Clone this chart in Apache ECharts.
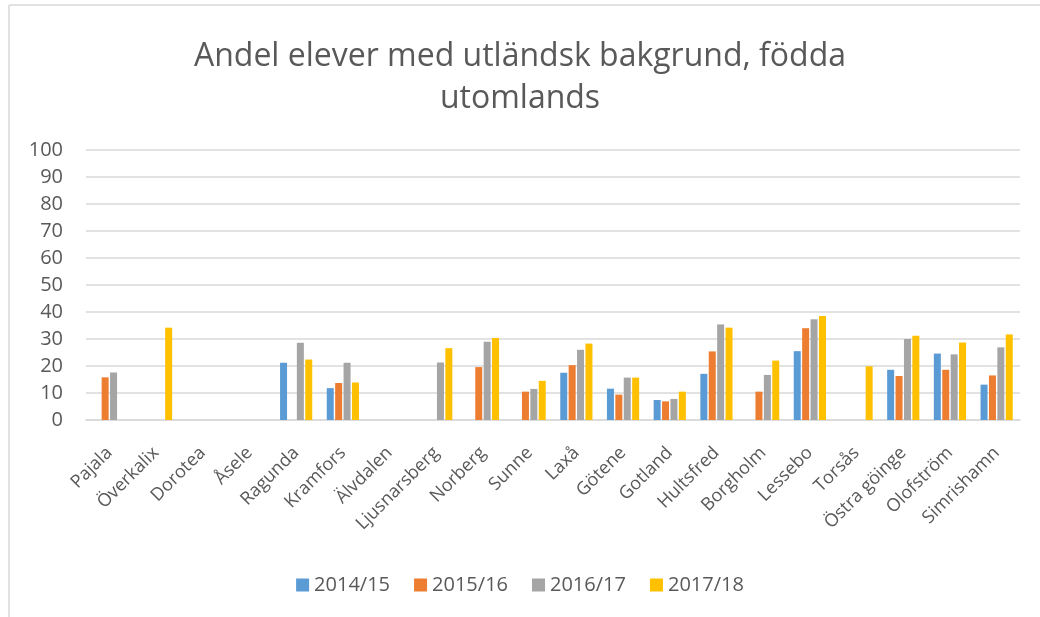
<!DOCTYPE html>
<html>
<head>
<meta charset="utf-8">
<script src="https://cdn.jsdelivr.net/npm/echarts@6/dist/echarts.min.js"></script>
<style>
  html, body { margin: 0; padding: 0; background: #fff; }
  #chart { width: 1040px; height: 617px; }
</style>
</head>
<body>
<div id="chart"></div>
<script>
// kommuner
const kommuner = ['Pajala', 'Överkalix', 'Dorotea', 'Åsele', 'Ragunda', 'Kramfors', 'Älvdalen',
  'Ljusnarsberg', 'Norberg', 'Sunne', 'Laxå', 'Götene', 'Gotland', 'Hultsfred', 'Borgholm',
  'Lessebo', 'Torsås', 'Östra göinge', 'Olofström', 'Simrishamn']

// andel (%) per läsår, null = saknas
const ar1415 = [null, null, null, null, 21.2, 11.8, null, null, null, null, 17.5, 11.6, 7.4, 17.1, null, 25.5, null, 18.6, 24.6, 13.1]
const ar1516 = [15.8, null, null, null, null, 13.7, null, null, 19.6, 10.5, 20.3, 9.4, 6.9, 25.4, 10.5, 34.0, null, 16.3, 18.6, 16.5]
const ar1617 = [17.6, null, null, null, 28.6, 21.2, null, 21.3, 29.0, 11.5, 26.0, 15.7, 7.8, 35.4, 16.7, 37.3, null, 30.0, 24.3, 26.9]
const ar1718 = [null, 34.2, null, null, 22.4, 13.9, null, 26.6, 30.4, 14.5, 28.3, 15.7, 10.5, 34.2, 22.0, 38.5, 19.9, 31.2, 28.7, 31.7]

const serieNamn = ['2014/15', '2015/16', '2016/17', '2017/18']
const farger = ['#5B9BD5', '#ED7D31', '#A5A5A5', '#FFC000']

const chart = echarts.init(document.getElementById('chart'))

const mkSerie = (namn, data, farg) => ({
  name: namn,
  type: 'bar',
  data: data,
  barWidth: 7,
  barGap: '20%',
  itemStyle: { color: farg },
  emphasis: { disabled: true }
})

const option = {
  animation: false,
  textStyle: { fontFamily: 'Open Sans' },
  title: {
    text: 'Andel elever med utländsk bakgrund, födda\nutomlands',
    left: 'center',
    top: 31,
    textStyle: {
      fontSize: 32,
      fontWeight: 'normal',
      color: '#595959',
      lineHeight: 42,
      fontFamily: 'Open Sans'
    }
  },
  legend: {
    top: 570,
    left: 'center',
    itemWidth: 13,
    itemHeight: 13,
    itemGap: 24,
    icon: 'rect',
    textStyle: { fontSize: 20, color: '#595959' },
    data: serieNamn
  },
  grid: {
    left: 86,
    right: 20,
    top: 150,
    bottom: 197
  },
  // ramen runt diagrammet (vänster + överkant)
  graphic: [
    { type: 'line', shape: { x1: 9, y1: 5, x2: 9, y2: 617 }, style: { stroke: '#d9d9d9', lineWidth: 1.5 } },
    { type: 'line', shape: { x1: 9, y1: 5, x2: 1040, y2: 5 }, style: { stroke: '#d9d9d9', lineWidth: 1.5 } }
  ],
  xAxis: {
    type: 'category',
    data: kommuner,
    axisLine: { lineStyle: { color: '#d9d9d9', width: 1.5 } },
    axisTick: { show: false },
    axisLabel: {
      rotate: 45,
      interval: 0,
      fontSize: 18,
      color: '#595959',
      margin: 30
    }
  },
  yAxis: {
    type: 'value',
    min: 0,
    max: 100,
    interval: 10,
    axisLine: { show: false },
    axisTick: { show: false },
    axisLabel: { fontSize: 20, color: '#595959', margin: 23 },
    splitLine: { lineStyle: { color: '#d9d9d9', width: 1.5 } }
  },
  series: [
    mkSerie(serieNamn[0], ar1415, farger[0]),
    mkSerie(serieNamn[1], ar1516, farger[1]),
    mkSerie(serieNamn[2], ar1617, farger[2]),
    mkSerie(serieNamn[3], ar1718, farger[3])
  ]
}

chart.setOption(option)
</script>
</body>
</html>
